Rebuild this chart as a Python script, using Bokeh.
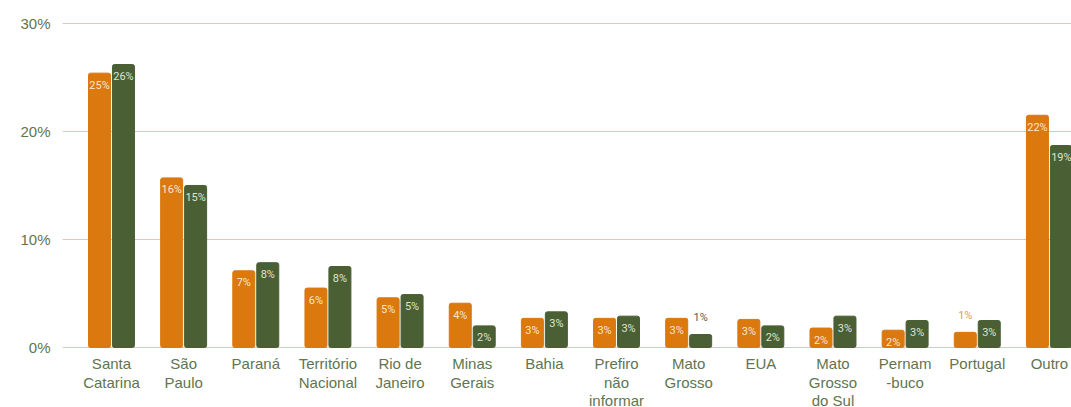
import math
from bokeh.plotting import figure
from bokeh.models import ColumnDataSource, FixedTicker, Range1d
from bokeh.transform import dodge
from bokeh.embed import file_html
from bokeh.resources import INLINE
from bokeh.core.properties import value

categories = ["Santa\nCatarina", "São\nPaulo", "Paraná", "Território\nNacional", "Rio de\nJaneiro",
              "Minas\nGerais", "Bahia", "Prefiro\nnão\ninformar", "Mato\nGrosso", "EUA",
              "Mato\nGrosso\ndo Sul", "Pernam\n-buco", "Portugal", "Outro"]
series_orange = [25.4, 15.7, 7.1, 5.5, 4.6, 4.1, 2.7, 2.7, 2.7, 2.6, 1.8, 1.6, 1.4, 21.5]
series_green = [26.2, 15.0, 7.85, 7.5, 4.9, 2.0, 3.3, 2.9, 1.2, 2.0, 2.9, 2.5, 2.5, 18.7]
y_ticks = [0, 10, 20, 30]
y_tick_labels = ["0%", "10%", "20%", "30%"]

ORANGE = "#DB780E"
GREEN = "#4A5F33"
AXIS_TEXT = "#5F7550"

xs = list(range(len(categories)))


def lab(v):
    return f"{int(math.floor(v + 0.5))}%"


def make_source(vals, inside_color, outside_color):
    return ColumnDataSource(dict(
        x=xs,
        top=vals,
        label=[lab(v) for v in vals],
        yoff=[12 if v >= 1.5 else -17 for v in vals],
        tcolor=[inside_color if v >= 1.5 else outside_color for v in vals],
    ))


src_o = make_source(series_orange, "#FAE6D0", "#E8994F")
src_g = make_source(series_green, "#DDE5D3", "#555B50")
src_cat = ColumnDataSource(dict(x=xs, y=[0] * len(xs), name=categories))

# frame reaches the bottom edge so category names can be drawn under the zero line
p = figure(width=1071, height=407,
           x_range=Range1d(-0.679, 13.306), y_range=Range1d(-5.556, 30.46),
           output_backend="svg", toolbar_location=None,
           min_border_left=62, min_border_right=0, min_border_top=18, min_border_bottom=0,
           outline_line_color=None, background_fill_color="white")

off = 0.166
bw = 0.305
p.vbar(x=dodge("x", -off, range=p.x_range), top="top", bottom=0, width=bw, source=src_o,
       fill_color=ORANGE, line_color=ORANGE, border_radius=2)
p.vbar(x=dodge("x", off, range=p.x_range), top="top", bottom=0, width=bw, source=src_g,
       fill_color=GREEN, line_color=GREEN, border_radius=2)

for src, dx in ((src_o, -off), (src_g, off)):
    p.text(x=dodge("x", dx, range=p.x_range), y="top", text="label", source=src,
           y_offset="yoff", text_color="tcolor", text_align="center", text_baseline="middle",
           text_font=value("Roboto"), text_font_size="11px")

# category names under the zero line
p.text(x="x", y="y", text="name", source=src_cat, y_offset=8,
       text_align="center", text_baseline="top",
       text_font=value("Liberation Sans"), text_font_size="15px",
       text_color=AXIS_TEXT, text_line_height=1.08)

p.xaxis.visible = False

p.yaxis.ticker = FixedTicker(ticks=y_ticks)
p.yaxis.major_label_overrides = {t: l for t, l in zip(y_ticks, y_tick_labels)}
p.yaxis.axis_line_color = None
p.yaxis.major_tick_line_color = None
p.yaxis.minor_tick_line_color = None
p.yaxis.major_label_standoff = 6
p.yaxis.major_label_text_font = "Liberation Sans"
p.yaxis.major_label_text_font_size = "15px"
p.yaxis.major_label_text_color = AXIS_TEXT

p.xgrid.grid_line_color = None
p.ygrid.ticker = FixedTicker(ticks=y_ticks)
p.ygrid.grid_line_color = "#E8BEBE"
p.ygrid.grid_line_width = 1

open("out.html", "w").write(file_html(p, INLINE))
